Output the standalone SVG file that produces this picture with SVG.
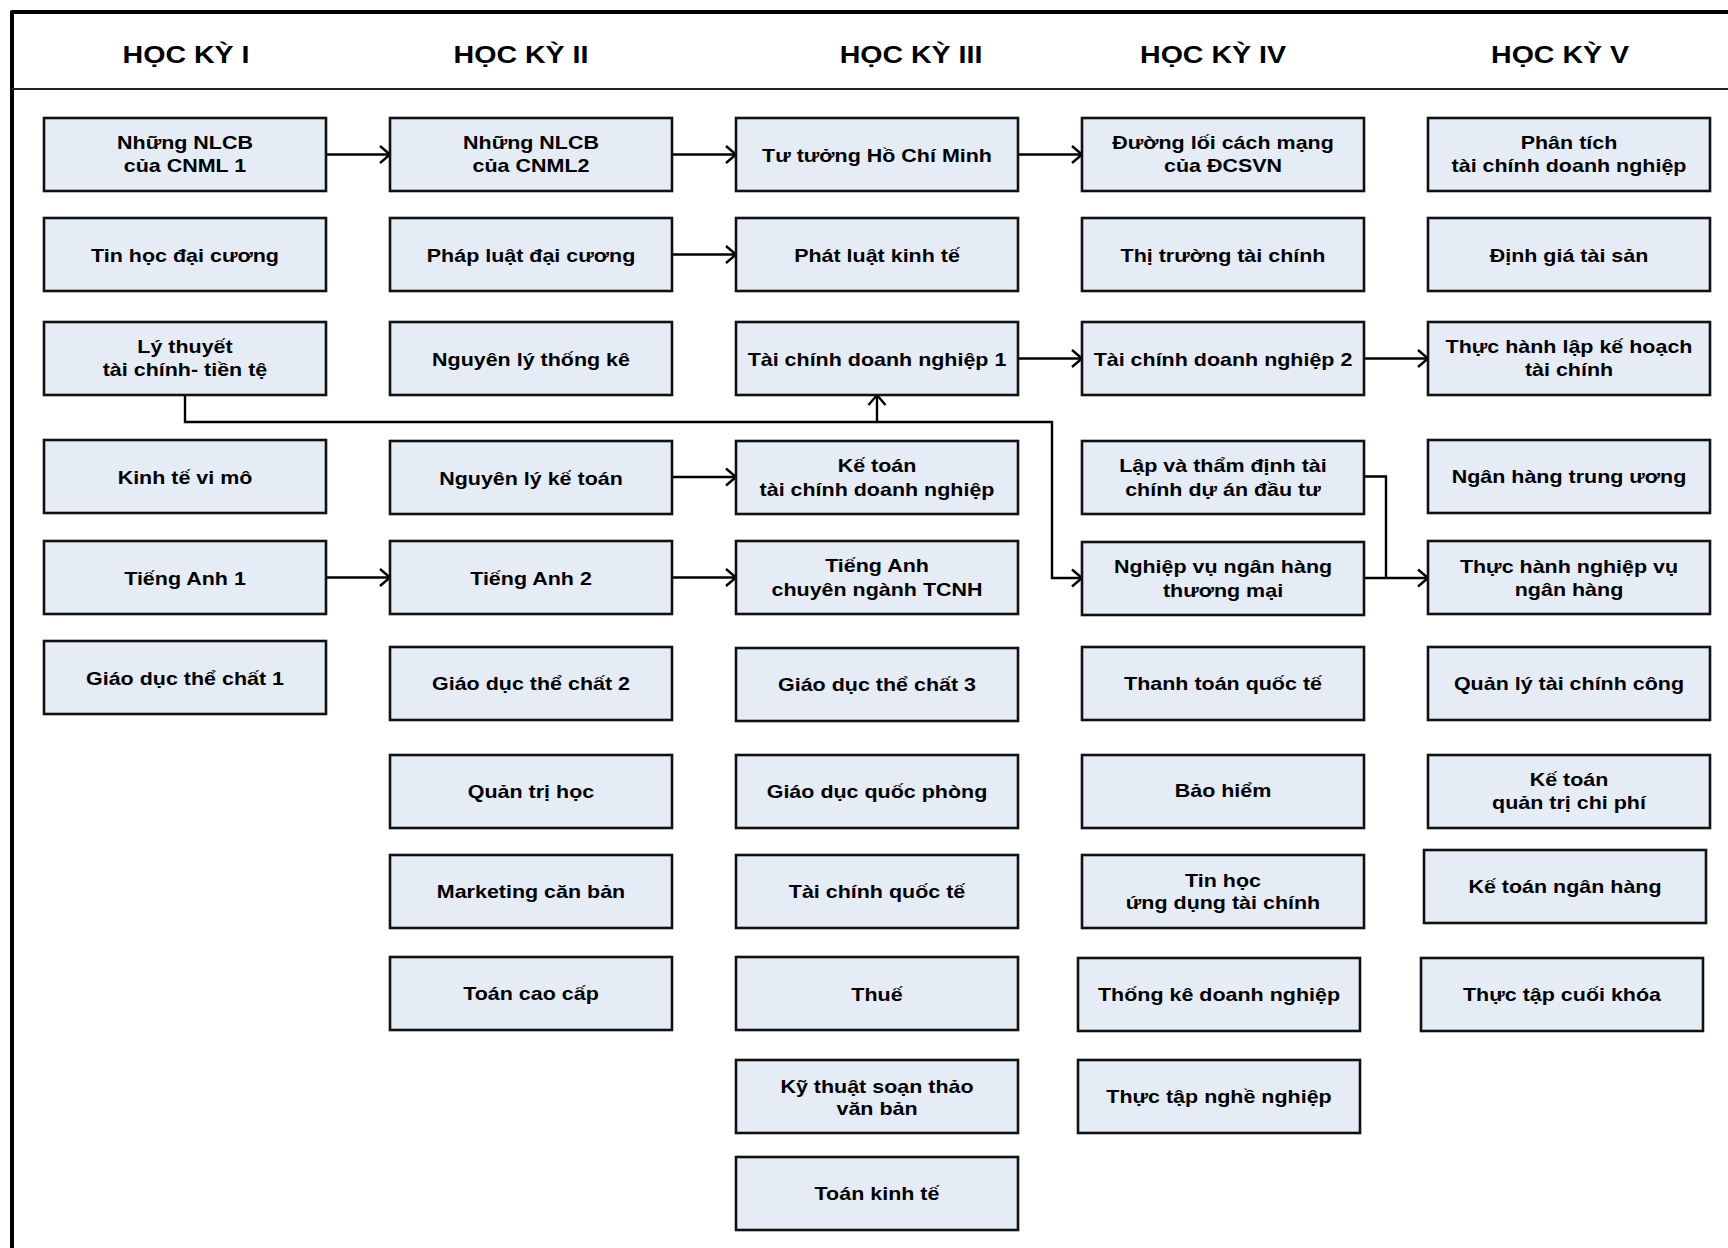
<svg xmlns="http://www.w3.org/2000/svg" width="1728" height="1248" viewBox="0 0 1728 1248">
<defs>
<style>
.bg{fill:#ffffff}
.frame{fill:none;stroke:#000;stroke-width:4;stroke-linejoin:round}
.sep{stroke:#222;stroke-width:2}
.box{fill:#E6ECF6;stroke:#111;stroke-width:2.6}
.t{font-family:"Liberation Sans",Arial,sans-serif;font-weight:bold;font-size:19px;fill:#000;text-anchor:middle}
.h{font-family:"Liberation Sans",Arial,sans-serif;font-weight:bold;font-size:24px;fill:#000;text-anchor:middle}
.c{fill:none;stroke:#000;stroke-width:2.4}
.a{marker-end:url(#arr)}
</style>
<marker id="arr" markerUnits="userSpaceOnUse" markerWidth="14" markerHeight="22" refX="11" refY="10" orient="auto">
<path d="M1,1.5 L11,10 L1,18.5" fill="none" stroke="#000" stroke-width="2.4"/>
</marker>
</defs>
<rect class="bg" x="0" y="0" width="1728" height="1248"/>
<path class="frame" d="M12,1260 V12 H1740"/>
<line class="sep" x1="12" y1="89" x2="1728" y2="89"/>

<g id="headings">
<text class="h" transform="translate(186,63) scale(1.19 1)">HỌC KỲ I</text>
<text class="h" transform="translate(521,63) scale(1.19 1)">HỌC KỲ II</text>
<text class="h" transform="translate(911,63) scale(1.19 1)">HỌC KỲ III</text>
<text class="h" transform="translate(1213,63) scale(1.19 1)">HỌC KỲ IV</text>
<text class="h" transform="translate(1560,63) scale(1.19 1)">HỌC KỲ V</text>
</g>

<g id="connectors">
<path class="c a" d="M326,154.5 H390"/>
<path class="c a" d="M672,154.5 H736"/>
<path class="c a" d="M1018,154.5 H1082"/>
<path class="c a" d="M672,254.5 H736"/>
<path class="c a" d="M1018,358.5 H1082"/>
<path class="c a" d="M1364,358.5 H1428"/>
<path class="c a" d="M672,477 H736"/>
<path class="c a" d="M326,577.5 H390"/>
<path class="c a" d="M672,577.5 H736"/>
<path class="c a" d="M185,395 V422 H1052 V578 H1082"/>
<path class="c a" d="M877,422 V395"/>
<path class="c" d="M1364,476.5 H1386 V578"/>
<path class="c a" d="M1364,578 H1428"/>
</g>

<!-- Column 1 -->
<g id="n1_1"><rect class="box" x="44" y="118" width="282" height="73"/><text class="t" transform="translate(185,154.5) scale(1.13 1)"><tspan x="0" y="-6">Những NLCB</tspan><tspan x="0" y="18">của CNML 1</tspan></text></g>
<g id="n1_2"><rect class="box" x="44" y="218" width="282" height="73"/><text class="t" transform="translate(185,254.5) scale(1.13 1)" y="7">Tin học đại cương</text></g>
<g id="n1_3"><rect class="box" x="44" y="322" width="282" height="73"/><text class="t" transform="translate(185,358.5) scale(1.13 1)"><tspan x="0" y="-6">Lý thuyết</tspan><tspan x="0" y="18">tài chính- tiền tệ</tspan></text></g>
<g id="n1_4"><rect class="box" x="44" y="440" width="282" height="73"/><text class="t" transform="translate(185,476.5) scale(1.13 1)" y="7">Kinh tế vi mô</text></g>
<g id="n1_5"><rect class="box" x="44" y="541" width="282" height="73"/><text class="t" transform="translate(185,577.5) scale(1.13 1)" y="7">Tiếng Anh 1</text></g>
<g id="n1_6"><rect class="box" x="44" y="641" width="282" height="73"/><text class="t" transform="translate(185,677.5) scale(1.13 1)" y="7">Giáo dục thể chất 1</text></g>

<!-- Column 2 -->
<g id="n2_1"><rect class="box" x="390" y="118" width="282" height="73"/><text class="t" transform="translate(531,154.5) scale(1.13 1)"><tspan x="0" y="-6">Những NLCB</tspan><tspan x="0" y="18">của CNML2</tspan></text></g>
<g id="n2_2"><rect class="box" x="390" y="218" width="282" height="73"/><text class="t" transform="translate(531,254.5) scale(1.13 1)" y="7">Pháp luật đại cương</text></g>
<g id="n2_3"><rect class="box" x="390" y="322" width="282" height="73"/><text class="t" transform="translate(531,358.5) scale(1.13 1)" y="7">Nguyên lý thống kê</text></g>
<g id="n2_4"><rect class="box" x="390" y="441" width="282" height="73"/><text class="t" transform="translate(531,477.5) scale(1.13 1)" y="7">Nguyên lý kế toán</text></g>
<g id="n2_5"><rect class="box" x="390" y="541" width="282" height="73"/><text class="t" transform="translate(531,577.5) scale(1.13 1)" y="7">Tiếng Anh 2</text></g>
<g id="n2_6"><rect class="box" x="390" y="647" width="282" height="73"/><text class="t" transform="translate(531,683.5) scale(1.13 1)" y="6">Giáo dục thể chất 2</text></g>
<g id="n2_7"><rect class="box" x="390" y="755" width="282" height="73"/><text class="t" transform="translate(531,791.5) scale(1.13 1)" y="6">Quản trị học</text></g>
<g id="n2_8"><rect class="box" x="390" y="855" width="282" height="73"/><text class="t" transform="translate(531,891.5) scale(1.13 1)" y="6">Marketing căn bản</text></g>
<g id="n2_9"><rect class="box" x="390" y="957" width="282" height="73"/><text class="t" transform="translate(531,993.5) scale(1.13 1)" y="6">Toán cao cấp</text></g>

<!-- Column 3 -->
<g id="n3_1"><rect class="box" x="736" y="118" width="282" height="73"/><text class="t" transform="translate(877,154.5) scale(1.13 1)" y="7">Tư tưởng Hồ Chí Minh</text></g>
<g id="n3_2"><rect class="box" x="736" y="218" width="282" height="73"/><text class="t" transform="translate(877,254.5) scale(1.13 1)" y="7">Phát luật kinh tế</text></g>
<g id="n3_3"><rect class="box" x="736" y="322" width="282" height="73"/><text class="t" transform="translate(877,358.5) scale(1.13 1)" y="7">Tài chính doanh nghiệp 1</text></g>
<g id="n3_4"><rect class="box" x="736" y="441" width="282" height="73"/><text class="t" transform="translate(877,477.5) scale(1.13 1)"><tspan x="0" y="-6">Kế toán</tspan><tspan x="0" y="19">tài chính doanh nghiệp</tspan></text></g>
<g id="n3_5"><rect class="box" x="736" y="541" width="282" height="73"/><text class="t" transform="translate(877,577.5) scale(1.13 1)"><tspan x="0" y="-6">Tiếng Anh</tspan><tspan x="0" y="19">chuyên ngành TCNH</tspan></text></g>
<g id="n3_6"><rect class="box" x="736" y="648" width="282" height="73"/><text class="t" transform="translate(877,684.5) scale(1.13 1)" y="6">Giáo dục thể chất 3</text></g>
<g id="n3_7"><rect class="box" x="736" y="755" width="282" height="73"/><text class="t" transform="translate(877,791.5) scale(1.13 1)" y="6">Giáo dục quốc phòng</text></g>
<g id="n3_8"><rect class="box" x="736" y="855" width="282" height="73"/><text class="t" transform="translate(877,891.5) scale(1.13 1)" y="6">Tài chính quốc tế</text></g>
<g id="n3_9"><rect class="box" x="736" y="957" width="282" height="73"/><text class="t" transform="translate(877,993.5) scale(1.13 1)" y="7">Thuế</text></g>
<g id="n3_10"><rect class="box" x="736" y="1060" width="282" height="73"/><text class="t" transform="translate(877,1096.5) scale(1.13 1)"><tspan x="0" y="-4">Kỹ thuật soạn thảo</tspan><tspan x="0" y="19">văn bản</tspan></text></g>
<g id="n3_11"><rect class="box" x="736" y="1157" width="282" height="73"/><text class="t" transform="translate(877,1193.5) scale(1.13 1)" y="6">Toán kinh tế</text></g>

<!-- Column 4 -->
<g id="n4_1"><rect class="box" x="1082" y="118" width="282" height="73"/><text class="t" transform="translate(1223,154.5) scale(1.13 1)"><tspan x="0" y="-6">Đường lối cách mạng</tspan><tspan x="0" y="18">của ĐCSVN</tspan></text></g>
<g id="n4_2"><rect class="box" x="1082" y="218" width="282" height="73"/><text class="t" transform="translate(1223,254.5) scale(1.13 1)" y="7">Thị trường tài chính</text></g>
<g id="n4_3"><rect class="box" x="1082" y="322" width="282" height="73"/><text class="t" transform="translate(1223,358.5) scale(1.13 1)" y="7">Tài chính doanh nghiệp 2</text></g>
<g id="n4_4"><rect class="box" x="1082" y="441" width="282" height="73"/><text class="t" transform="translate(1223,477.5) scale(1.13 1)"><tspan x="0" y="-6">Lập và thẩm định tài</tspan><tspan x="0" y="19">chính dự án đầu tư</tspan></text></g>
<g id="n4_5"><rect class="box" x="1082" y="542" width="282" height="73"/><text class="t" transform="translate(1223,578.5) scale(1.13 1)"><tspan x="0" y="-6">Nghiệp vụ ngân hàng</tspan><tspan x="0" y="19">thương mại</tspan></text></g>
<g id="n4_6"><rect class="box" x="1082" y="647" width="282" height="73"/><text class="t" transform="translate(1223,683.5) scale(1.13 1)" y="6">Thanh toán quốc tế</text></g>
<g id="n4_7"><rect class="box" x="1082" y="755" width="282" height="73"/><text class="t" transform="translate(1223,791.5) scale(1.13 1)" y="5">Bảo hiểm</text></g>
<g id="n4_8"><rect class="box" x="1082" y="855" width="282" height="73"/><text class="t" transform="translate(1223,891.5) scale(1.13 1)"><tspan x="0" y="-5">Tin học</tspan><tspan x="0" y="18">ứng dụng tài chính</tspan></text></g>
<g id="n4_9"><rect class="box" x="1078" y="958" width="282" height="73"/><text class="t" transform="translate(1219,994.5) scale(1.13 1)" y="6">Thống kê doanh nghiệp</text></g>
<g id="n4_10"><rect class="box" x="1078" y="1060" width="282" height="73"/><text class="t" transform="translate(1219,1096.5) scale(1.13 1)" y="6">Thực tập nghề nghiệp</text></g>

<!-- Column 5 -->
<g id="n5_1"><rect class="box" x="1428" y="118" width="282" height="73"/><text class="t" transform="translate(1569,154.5) scale(1.13 1)"><tspan x="0" y="-6">Phân tích</tspan><tspan x="0" y="18">tài chính doanh nghiệp</tspan></text></g>
<g id="n5_2"><rect class="box" x="1428" y="218" width="282" height="73"/><text class="t" transform="translate(1569,254.5) scale(1.13 1)" y="7">Định giá tài sản</text></g>
<g id="n5_3"><rect class="box" x="1428" y="322" width="282" height="73"/><text class="t" transform="translate(1569,358.5) scale(1.13 1)"><tspan x="0" y="-6">Thực hành lập kế hoạch</tspan><tspan x="0" y="18">tài chính</tspan></text></g>
<g id="n5_4"><rect class="box" x="1428" y="440" width="282" height="73"/><text class="t" transform="translate(1569,476.5) scale(1.13 1)" y="6">Ngân hàng trung ương</text></g>
<g id="n5_5"><rect class="box" x="1428" y="541" width="282" height="73"/><text class="t" transform="translate(1569,577.5) scale(1.13 1)"><tspan x="0" y="-5">Thực hành nghiệp vụ</tspan><tspan x="0" y="19">ngân hàng</tspan></text></g>
<g id="n5_6"><rect class="box" x="1428" y="647" width="282" height="73"/><text class="t" transform="translate(1569,683.5) scale(1.13 1)" y="6">Quản lý tài chính công</text></g>
<g id="n5_7"><rect class="box" x="1428" y="755" width="282" height="73"/><text class="t" transform="translate(1569,791.5) scale(1.13 1)"><tspan x="0" y="-6">Kế toán</tspan><tspan x="0" y="18">quản trị chi phí</tspan></text></g>
<g id="n5_8"><rect class="box" x="1424" y="850" width="282" height="73"/><text class="t" transform="translate(1565,886.5) scale(1.13 1)" y="6">Kế toán ngân hàng</text></g>
<g id="n5_9"><rect class="box" x="1421" y="958" width="282" height="73"/><text class="t" transform="translate(1562,994.5) scale(1.13 1)" y="6">Thực tập cuối khóa</text></g>
</svg>
